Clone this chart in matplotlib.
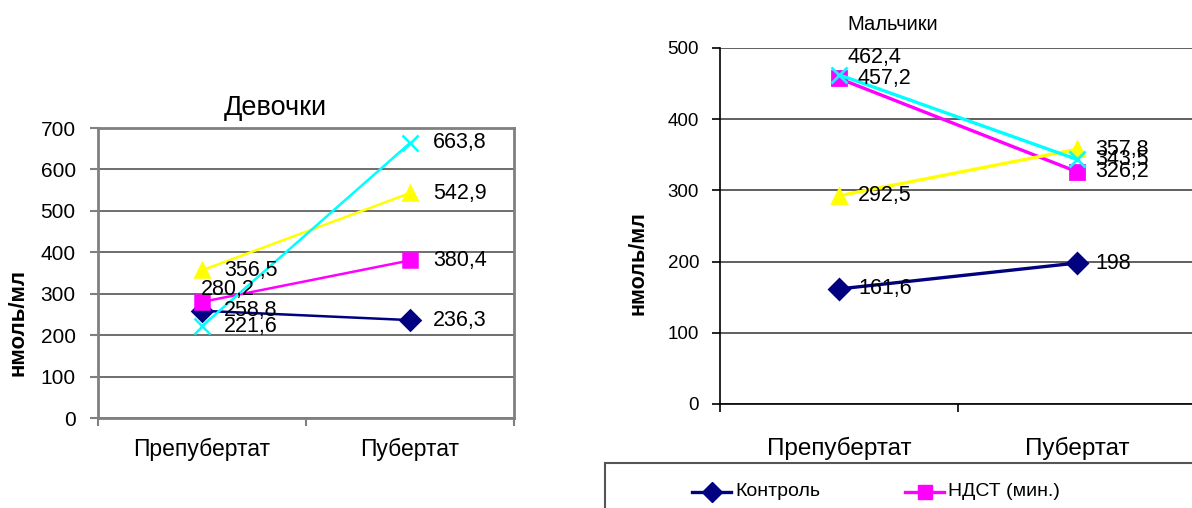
import matplotlib
matplotlib.use("Agg")
import matplotlib.pyplot as plt
from matplotlib.lines import Line2D
from matplotlib.patches import Rectangle

# ---------------- data ----------------
categories = ["Препубертат", "Пубертат"]
girls_kontrol = [258.8, 236.3]
girls_ndst = [280.2, 380.4]
girls_yellow = [356.5, 542.9]
girls_cyan = [221.6, 663.8]
boys_kontrol = [161.6, 198]
boys_ndst = [457.2, 326.2]
boys_yellow = [292.5, 357.8]
boys_cyan = [462.4, 343.5]
girls_yticks = [0, 100, 200, 300, 400, 500, 600, 700]
boys_yticks = [0, 100, 200, 300, 400, 500]
legend_names = ["Контроль", "НДСТ (мин.)"]

W, H = 1192, 508
fig = plt.figure(figsize=(W / 100, H / 100), dpi=100)
fig.patch.set_facecolor("white")

ARIAL = ["Liberation Sans", "DejaVu Sans"]
NARROW = ["Liberation Sans Narrow", "Liberation Sans", "DejaVu Sans"]

def fx(px):
    return px / W

def fy(py):
    return 1 - py / H

def fmt(v):
    if float(v).is_integer():
        return str(int(v))
    return f"{v:.1f}".replace(".", ",")

styles = [
    dict(color="#000080", marker="D"),
    dict(color="#FF00FF", marker="s"),
    dict(color="#FFFF00", marker="^"),
    dict(color="#00FFFF", marker="x"),
]

# ---------------- left chart (girls) ----------------
axL = fig.add_axes([fx(98), fy(418), fx(514 - 98), (418 - 128) / H])
xs = [0, 1]
girls = [girls_kontrol, girls_ndst, girls_yellow, girls_cyan]
left_offsets = [
    [(22, 0, "left"), (23, 0, "left")],
    [(-1, 12, "left"), (23, 0, "left")],
    [(22, 0, "left"), (23, 0, "left")],
    [(22, 0, "left"), (23, 0, "left")],
]
for vals, st, offs in zip(girls, styles, left_offsets):
    ms = 10 if st["marker"] != "x" else 11
    axL.plot(xs, vals, color=st["color"], lw=1.8, marker=st["marker"], ms=ms,
             mec=st["color"], mfc=st["color"], mew=1.8, zorder=3)
    for i, v in enumerate(vals):
        dx, dy, ha = offs[i]
        axL.annotate(fmt(v), (xs[i], v), xytext=(dx, dy), textcoords="offset pixels",
                     ha=ha, va="center", fontsize=15.5, family=ARIAL, color="black", zorder=4)

axL.set_xlim(-0.5, 1.5)
axL.set_ylim(0, 700)
axL.set_yticks(girls_yticks)
axL.set_yticklabels([str(t) for t in girls_yticks], fontsize=15, family=ARIAL)
axL.yaxis.grid(True, color="#555555", lw=1.2)
axL.set_axisbelow(True)
axL.set_xticks([-0.5, 0.5, 1.5])
axL.set_xticklabels([])
axL.set_xticks(xs, minor=True)
axL.set_xticklabels(categories, minor=True, fontsize=16.5, family=ARIAL)
axL.tick_params(axis="x", which="minor", length=0, pad=14)
axL.tick_params(axis="x", which="major", length=6, width=1.5, color="#808080")
axL.tick_params(axis="y", length=6, width=1.5, color="#808080", pad=10)
for s in axL.spines.values():
    s.set_color("#808080")
    s.set_linewidth(2)
fig.text(fx(275), fy(108), "Девочки", ha="center", va="center", fontsize=19.5, family=ARIAL)
fig.text(fx(18), fy(322), "нмоль/мл", ha="center", va="center", rotation=90,
         fontsize=16, fontweight="bold", family=ARIAL)

# ---------------- right chart (boys) ----------------
axR = fig.add_axes([fx(720), fy(404), fx(1196 - 720), (404 - 48) / H])
boys = [boys_kontrol, boys_ndst, boys_yellow, boys_cyan]
right_offsets = [
    [(19, 0), (18, 0)],
    [(19, 0), (18, 0)],
    [(19, 0), (18, 0)],
    [(9, 17), (18, 0)],
]
for vals, st, offs in zip(boys, styles, right_offsets):
    ms = 10 if st["marker"] != "x" else 11
    axR.plot(xs, vals, color=st["color"], lw=2.4, marker=st["marker"], ms=ms,
             mec=st["color"], mfc=st["color"], mew=2, zorder=3, clip_on=False)
    for i, v in enumerate(vals):
        dx, dy = offs[i]
        axR.annotate(fmt(v), (xs[i], v), xytext=(dx, dy), textcoords="offset pixels",
                     ha="left", va="center", fontsize=15.5, family=NARROW, color="black", zorder=4)

axR.set_xlim(-0.5, 1.5)
axR.set_ylim(0, 500)
axR.set_yticks(boys_yticks)
axR.set_yticklabels([str(t) for t in boys_yticks], fontsize=13.5, family=NARROW)
axR.yaxis.grid(True, color="#444444", lw=1.2)
axR.set_axisbelow(True)
axR.set_xticks([-0.5, 0.5])
axR.set_xticklabels([])
axR.set_xticks(xs, minor=True)
axR.set_xticklabels(categories, minor=True, fontsize=17.5, family=NARROW)
axR.tick_params(axis="x", which="minor", length=0, pad=24)
axR.tick_params(axis="x", which="major", length=6, width=1.2, color="black")
axR.tick_params(axis="y", length=6, width=1.2, color="black", pad=9)
axR.spines["top"].set_visible(False)
axR.spines["right"].set_visible(False)
axR.spines["left"].set_color("black")
axR.spines["bottom"].set_color("black")
axR.spines["left"].set_linewidth(1.2)
axR.spines["bottom"].set_linewidth(1.2)
fig.text(fx(893), fy(25), "Мальчики", ha="center", va="center", fontsize=14.5, family=NARROW)
fig.text(fx(638), fy(263), "нмоль/мл", ha="center", va="center", rotation=90,
         fontsize=15.5, fontweight="bold", family=NARROW)

# ---------------- legend (clipped box) ----------------
fig.add_artist(Rectangle((fx(605), fy(540)), fx(700), (540 - 463) / H, transform=fig.transFigure,
                         facecolor="white", edgecolor="#555555", lw=1.5, zorder=5))
leg_items = [(692, 731, 735), (905, 944, 948)]
for (x1, x2, xt), st, name in zip(leg_items, styles[:2], legend_names):
    y = fy(492)
    fig.add_artist(Line2D([fx(x1), fx(x2)], [y, y], transform=fig.transFigure,
                          color=st["color"], lw=2.4, zorder=6))
    fig.add_artist(Line2D([fx((x1 + x2) / 2)], [y], transform=fig.transFigure,
                          color=st["color"], marker=st["marker"], ms=10, lw=0, zorder=6))
    fig.text(fx(xt), y, name, ha="left", va="center", fontsize=14, family=NARROW, zorder=7)

fig.savefig("out.png", dpi=100, facecolor="white")
